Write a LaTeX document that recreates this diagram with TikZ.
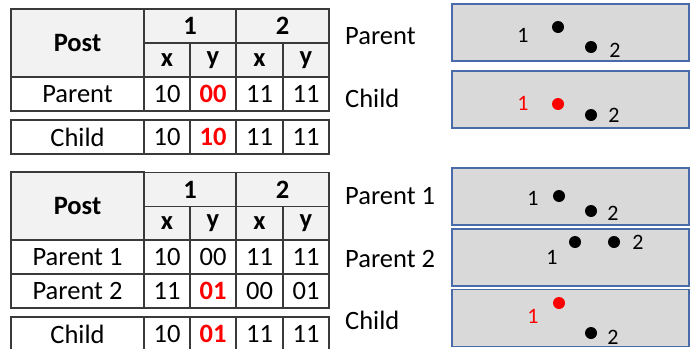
\documentclass[tikz,border=0pt]{standalone}
\usepackage{fontspec}
\setmainfont{Carlito}
\usepackage{xcolor}
\usepackage{tikz}
\definecolor{cGrid}{HTML}{3A3A3A}
\definecolor{cHead}{HTML}{F2F2F2}
\definecolor{cRed}{HTML}{FF0000}
\definecolor{cPanel}{HTML}{D9D9D9}
\definecolor{cEdge}{HTML}{4A6BAA}
\tikzset{
  cell/.style   = {draw=cGrid, line width=1.3pt, inner sep=0pt,
                   minimum width=46pt, minimum height=34pt,
                   font=\fontsize{26.5}{30}\selectfont},
  namecell/.style = {cell, minimum width=133pt},
  head/.style   = {cell, fill=cHead, font=\fontsize{26.5}{30}\selectfont\bfseries},
  tag/.style    = {anchor=west, inner sep=0pt, font=\fontsize{26.5}{30}\selectfont},
  panel/.style  = {draw=cEdge, fill=cPanel, line width=1.1pt, inner sep=0pt,
                   minimum width=237pt, minimum height=57pt},
  dot/.style    = {circle, fill=black, inner sep=0pt, minimum size=12pt},
  dotlab/.style = {inner sep=0pt, font=\fontsize{22}{26}\selectfont},
}

\begin{document}
\begin{tikzpicture}[x=1pt, y=-1pt]
  \useasboundingbox (0,0) rectangle (692,348);
  % upper table
  \node[head, minimum width=133pt, minimum height=68pt] (A-post) at (77.5,43) {Post};
  \node[head, minimum width=92pt] (A-p1) at (190,26) {1};
  \node[head, minimum width=93pt] (A-p2) at (282.5,26) {2};
  \foreach \cx/\v [count=\i] in {167/x, 213/y, 259.5/x, 306/y}
    \node[head] (A-h\i) at (\cx,60) {\v};
  \node[namecell] (A-par) at (77.5,94) {Parent};
  \foreach \cx/\v/\tc [count=\i] in {167/10/black, 213/\textbf{00}/cRed, 259.5/11/black, 306/11/black}
    \node[cell, text=\tc] (A-par-\i) at (\cx,94) {\v};
  \node[namecell] (A-chi) at (77.5,137) {Child};
  \foreach \cx/\v/\tc [count=\i] in {167/10/black, 213/\textbf{10}/cRed, 259.5/11/black, 306/11/black}
    \node[cell, text=\tc] (A-chi-\i) at (\cx,137) {\v};
  % lower table
  \node[head, minimum width=133pt, minimum height=68pt] (B-post) at (77.5,206) {Post};
  \node[head, minimum width=92pt] (B-p1) at (190,189.5) {1};
  \node[head, minimum width=93pt] (B-p2) at (282.5,189.5) {2};
  \foreach \cx/\v [count=\i] in {167/x, 213/y, 259.5/x, 306/y}
    \node[head] (B-h\i) at (\cx,223.5) {\v};
  \node[namecell] (B-par1) at (77.5,257) {Parent 1};
  \foreach \cx/\v [count=\i] in {167/10, 213/00, 259.5/11, 306/11}
    \node[cell] (B-par1-\i) at (\cx,257) {\v};
  \node[namecell] (B-par2) at (77.5,291) {Parent 2};
  \foreach \cx/\v/\tc [count=\i] in {167/11/black, 213/\textbf{01}/cRed, 259.5/00/black, 306/01/black}
    \node[cell, text=\tc] (B-par2-\i) at (\cx,291) {\v};
  \node[namecell] (B-chi) at (77.5,334) {Child};
  \foreach \cx/\v/\tc [count=\i] in {167/10/black, 213/\textbf{01}/cRed, 259.5/11/black, 306/11/black}
    \node[cell, text=\tc] (B-chi-\i) at (\cx,334) {\v};
  % row names
  \node[tag] (L-par)  at (345,36)  {Parent};
  \node[tag] (L-chi)  at (345,98)  {Child};
  \node[tag] (L-par1) at (345,196) {Parent 1};
  \node[tag] (L-par2) at (345,259) {Parent 2};
  \node[tag] (L-chi2) at (345,320) {Child};
  % panels
  \node[panel] (P-par)  at (570.5,32.5)  {};
  \node[panel] (P-chi)  at (570.5,99.5)  {};
  \node[panel] (P-par1) at (570.5,196.5) {};
  \node[panel] (P-par2) at (570.5,257.5) {};
  \node[panel] (P-chi2) at (570.5,318)   {};
  % posts in the panels
  \node[dot] (d-a1) at (558,27) {};   \node[dotlab] (l-a1) at (523,35) {1};
  \node[dot] (d-a2) at (591,47) {};   \node[dotlab] (l-a2) at (615,50) {2};
  \node[dot, fill=cRed] (d-b1) at (558,104) {};
  \node[dotlab, text=cRed] (l-b1) at (523,103) {1};
  \node[dot] (d-b2) at (591,115) {};  \node[dotlab] (l-b2) at (614,115) {2};
  \node[dot] (d-c1) at (559,196) {};  \node[dotlab] (l-c1) at (533,198) {1};
  \node[dot] (d-c2) at (591,211) {};  \node[dotlab] (l-c2) at (613,213) {2};
  \node[dot] (d-d1) at (575,242) {};  \node[dotlab] (l-d1) at (552,257) {1};
  \node[dot] (d-d2) at (614,242) {};  \node[dotlab] (l-d2) at (638,242) {2};
  \node[dot, fill=cRed] (d-e1) at (559,303) {};
  \node[dotlab, text=cRed] (l-e1) at (533,316) {1};
  \node[dot] (d-e2) at (591,333) {};  \node[dotlab] (l-e2) at (613,337) {2};
\end{tikzpicture}
\end{document}
